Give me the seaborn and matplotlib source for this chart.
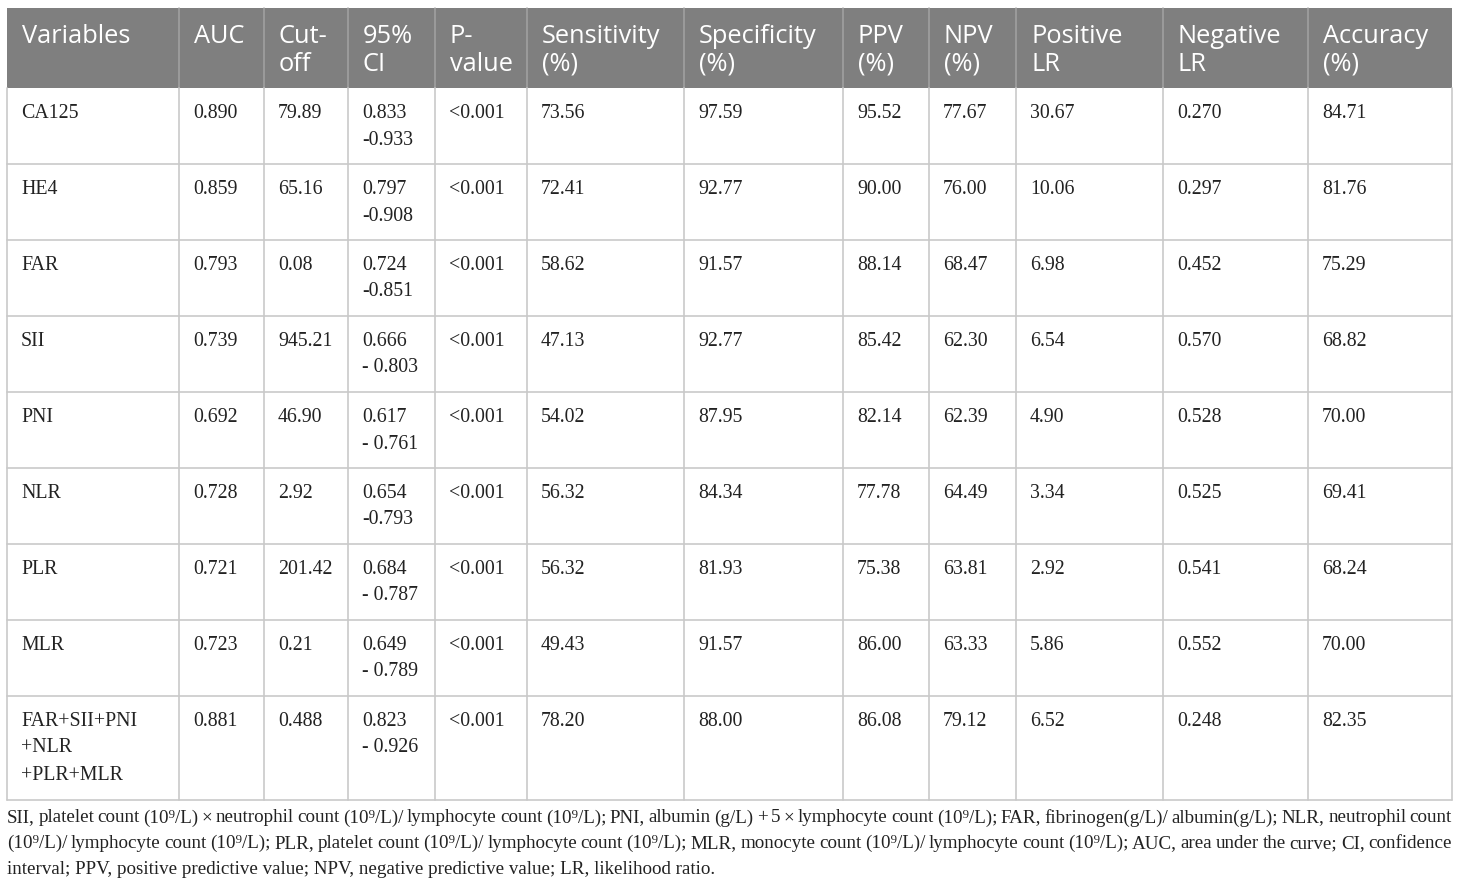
"""
ROC 诊断效能表：各指标的 AUC、截断值、敏感度、特异度等
"""

import matplotlib.pyplot as plt
from matplotlib.patches import Rectangle
import seaborn as sns

# 表格数据（按原表格式保留为字符串）
header = ['Variables', 'AUC', 'Cut-\noff', '95%\nCI', 'P-\nvalue', 'Sensitivity\n(%)',
          'Specificity\n(%)', 'PPV\n(%)', 'NPV\n(%)', 'Positive\nLR', 'Negative\nLR',
          'Accuracy\n(%)']
variables = ['CA125', 'HE4', 'FAR', 'SII', 'PNI', 'NLR', 'PLR', 'MLR',
             'FAR+SII+PNI\n+NLR\n+PLR+MLR']
auc = ['0.890', '0.859', '0.793', '0.739', '0.692', '0.728', '0.721', '0.723', '0.881']
cutoff = ['79.89', '65.16', '0.08', '945.21', '46.90', '2.92', '201.42', '0.21', '0.488']
ci = ['0.833\n-0.933', '0.797\n-0.908', '0.724\n-0.851', '0.666\n- 0.803', '0.617\n- 0.761',
      '0.654\n-0.793', '0.684\n- 0.787', '0.649\n- 0.789', '0.823\n- 0.926']
pvalue = ['<0.001'] * 9
sensitivity = ['73.56', '72.41', '58.62', '47.13', '54.02', '56.32', '56.32', '49.43', '78.20']
specificity = ['97.59', '92.77', '91.57', '92.77', '87.95', '84.34', '81.93', '91.57', '88.00']
ppv = ['95.52', '90.00', '88.14', '85.42', '82.14', '77.78', '75.38', '86.00', '86.08']
npv = ['77.67', '76.00', '68.47', '62.30', '62.39', '64.49', '63.81', '63.33', '79.12']
pos_lr = ['30.67', '10.06', '6.98', '6.54', '4.90', '3.34', '2.92', '5.86', '6.52']
neg_lr = ['0.270', '0.297', '0.452', '0.570', '0.528', '0.525', '0.541', '0.552', '0.248']
accuracy = ['84.71', '81.76', '75.29', '68.82', '70.00', '69.41', '68.24', '70.00', '82.35']

footnote = [
    'SII, platelet count (10\u2079/L) \u00d7 neutrophil count (10\u2079/L)/ lymphocyte count (10\u2079/L); '
    'PNI, albumin (g/L) + 5 \u00d7 lymphocyte count (10\u2079/L); FAR, fibrinogen(g/L)/ albumin(g/L); '
    'NLR, neutrophil count',
    '(10\u2079/L)/ lymphocyte count (10\u2079/L); PLR, platelet count (10\u2079/L)/ lymphocyte count '
    '(10\u2079/L); MLR, monocyte count (10\u2079/L)/ lymphocyte count (10\u2079/L); AUC, area under '
    'the curve; CI, confidence',
    'interval; PPV, positive predictive value; NPV, negative predictive value; LR, likelihood ratio.',
]

columns = [variables, auc, cutoff, ci, pvalue, sensitivity, specificity, ppv, npv,
           pos_lr, neg_lr, accuracy]

# 版式（像素坐标）
col_edges = [7, 179, 264, 348, 435, 527, 684, 843, 929, 1016, 1163, 1308, 1452]
row_edges = [8, 88, 164, 240, 316, 392, 468, 544, 620, 696, 800]
pad = 14
line_h = 27

sns.set_theme(style='white')
serif = ['Liberation Serif', 'DejaVu Serif']
sans = ['Open Sans', 'DejaVu Sans']
ink = '#222222'

fig = plt.figure(figsize=(14.6, 8.86), dpi=100)
ax = fig.add_axes([0, 0, 1, 1])
ax.set_xlim(0, 1460)
ax.set_ylim(886, 0)
ax.axis('off')

# 表头
ax.add_patch(Rectangle((col_edges[0], row_edges[0]), col_edges[-1] - col_edges[0],
                       row_edges[1] - row_edges[0], facecolor='#7f7f7f', edgecolor='none'))
for x in col_edges[1:-1]:
    ax.plot([x, x], [row_edges[0], row_edges[1]], color='#a3a3a3', lw=1.1)
for j, h in enumerate(header):
    for k, part in enumerate(h.split('\n')):
        ax.text(col_edges[j] + pad + 1, row_edges[0] + 28 + k * 28, part, color='white',
                fontsize=18.3, family=sans, va='center', ha='left')

# 表体
grid_c = '#c9c9c9'
for y in row_edges[2:]:
    ax.plot([col_edges[0], col_edges[-1]], [y, y], color=grid_c, lw=1.2)
for x in col_edges:
    ax.plot([x, x], [row_edges[1], row_edges[-1]], color=grid_c, lw=1.2)

for i in range(len(variables)):
    top = row_edges[i + 1]
    for j, col in enumerate(columns):
        for k, part in enumerate(col[i].split('\n')):
            ax.text(col_edges[j] + pad, top + 25 + k * line_h, part, color=ink,
                    fontsize=14.3, family=serif, va='center', ha='left')

# 注释：前两行两端对齐
fig.canvas.draw()
renderer = fig.canvas.get_renderer()
fs = 13.7
left, right = col_edges[0], col_edges[-1]
for k, line in enumerate(footnote):
    y = 818 + k * 25.5
    if k == len(footnote) - 1:
        ax.text(left, y, line, fontsize=fs, family=serif, color=ink, va='center', ha='left')
        continue
    words = line.split(' ')
    widths = []
    for wd in words:
        t = ax.text(0, 0, wd, fontsize=fs, family=serif)
        widths.append(t.get_window_extent(renderer).width)
        t.remove()
    gap = (right - left - sum(widths)) / (len(words) - 1)
    x = left
    for wd, w in zip(words, widths):
        ax.text(x, y, wd, fontsize=fs, family=serif, color=ink, va='center', ha='left')
        x += w + gap

plt.savefig('out.png', dpi=100, facecolor='white')
plt.close()
